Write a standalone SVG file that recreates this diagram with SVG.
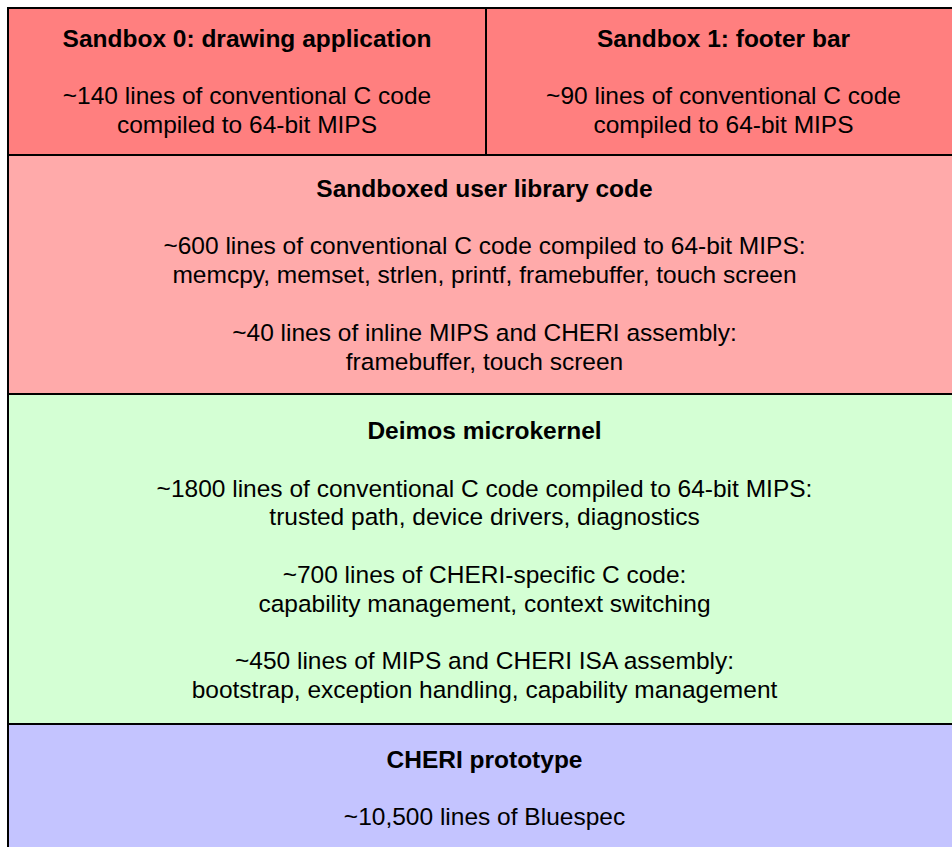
<svg xmlns="http://www.w3.org/2000/svg" width="952" height="847" viewBox="0 0 952 847">
<style>
.box{stroke:#000;stroke-width:2}
text{font-family:"Liberation Sans",Arial,Helvetica,sans-serif;font-size:24.5px;fill:#000;text-anchor:middle}
.t{font-weight:bold}
</style>
<rect width="952" height="847" fill="#ffffff"/>
<g id="sandbox0">
<rect class="box" x="8" y="8" width="478" height="147" fill="#FF7F7F"/>
<text class="t" x="247" y="46.5">Sandbox 0: drawing application</text>
<text x="247" y="104">~140 lines of conventional C code</text>
<text x="247" y="133">compiled to 64-bit MIPS</text>
</g>
<g id="sandbox1">
<rect class="box" x="486" y="8" width="475" height="147" fill="#FF7F7F"/>
<text class="t" x="723.5" y="46.5">Sandbox 1: footer bar</text>
<text x="723.5" y="104">~90 lines of conventional C code</text>
<text x="723.5" y="133">compiled to 64-bit MIPS</text>
</g>
<g id="library">
<rect class="box" x="8" y="155" width="953" height="239" fill="#FFAAAA"/>
<text class="t" x="484.5" y="196.5">Sandboxed user library code</text>
<text x="484.5" y="254">~600 lines of conventional C code compiled to 64-bit MIPS:</text>
<text x="484.5" y="283">memcpy, memset, strlen, printf, framebuffer, touch screen</text>
<text x="484.5" y="340.5">~40 lines of inline MIPS and CHERI assembly:</text>
<text x="484.5" y="369.5">framebuffer, touch screen</text>
</g>
<g id="deimos">
<rect class="box" x="8" y="394" width="953" height="330" fill="#D4FFD4"/>
<text class="t" x="484.5" y="439">Deimos microkernel</text>
<text x="484.5" y="496.5">~1800 lines of conventional C code compiled to 64-bit MIPS:</text>
<text x="484.5" y="525.3">trusted path, device drivers, diagnostics</text>
<text x="484.5" y="582.9">~700 lines of CHERI-specific C code:</text>
<text x="484.5" y="611.7">capability management, context switching</text>
<text x="484.5" y="669.3">~450 lines of MIPS and CHERI ISA assembly:</text>
<text x="484.5" y="698.1">bootstrap, exception handling, capability management</text>
</g>
<g id="cheri">
<rect class="box" x="8" y="724" width="953" height="150" fill="#C4C4FF"/>
<text class="t" x="484.5" y="767.5">CHERI prototype</text>
<text x="484.5" y="825">~10,500 lines of Bluespec</text>
</g>
<g id="connectors"></g>
</svg>
